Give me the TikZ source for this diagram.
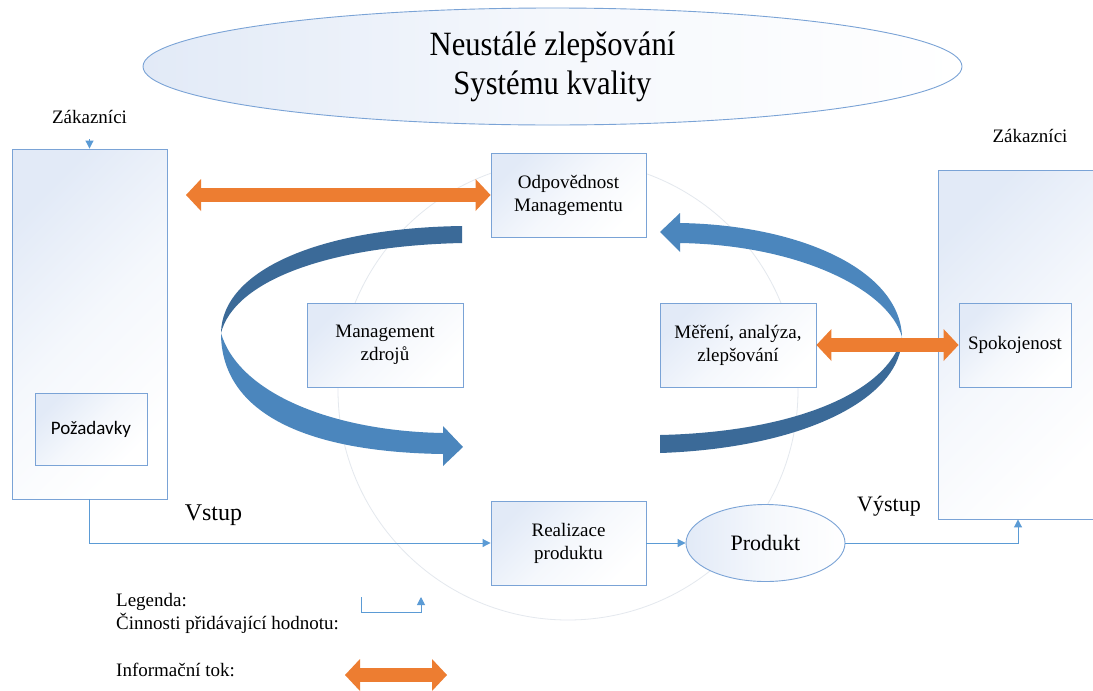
\documentclass[tikz,border=0pt]{standalone}
\usepackage{fontspec}
\usepackage{graphicx}
\setmainfont{Liberation Serif}
\newfontfamily\calib{Carlito}
\usetikzlibrary{shapes.geometric,arrows.meta}

\definecolor{frame}{RGB}{122,163,214}
\definecolor{tint}{RGB}{226,234,247}
\definecolor{flowblue}{RGB}{91,155,213}
\definecolor{infoor}{RGB}{237,125,49}
\definecolor{arcdark}{RGB}{59,106,152}
\definecolor{arclight}{RGB}{75,134,189}
\definecolor{ringgray}{RGB}{228,232,238}

\begin{document}
\begin{tikzpicture}[x=1pt,y=-1pt,
  box/.style={draw=frame, line width=0.9pt, top color=tint, bottom color=white,
    middle color=tint!35!white, shading angle=45, align=center, inner sep=2pt,
    font=\fontsize{19}{23}\selectfont},
  oval/.style={ellipse, draw=frame, line width=0.9pt, left color=tint,
    right color=white, middle color=tint!35!white, align=center, inner sep=0pt},
  flow/.style={draw=flowblue, line width=1pt, -{Triangle[length=8pt,width=8pt]}},
  info/.style={draw=infoor, line width=14pt,
    {Triangle[length=15pt,width=32pt,line width=0pt]}-{Triangle[length=15pt,width=32pt,line width=0pt]}},
  label/.style={inner sep=0pt, font=\fontsize{19}{23}\selectfont},
  biglabel/.style={inner sep=0pt, font=\fontsize{24}{28}\selectfont}]

\useasboundingbox (0,0) rectangle (1093,691);
\fill[white] (0,0) rectangle (1093,691);
\clip (0,0) rectangle (1093,691);

% faint ring behind the process
\draw[ringgray, line width=0.8pt] (568,390) circle[radius=230];

% curved arrow on the left (management to realisation)
\fill[arcdark] (462,226) .. controls (320,228) and (222,270) .. (221,333)
  .. controls (234,282) and (325,246) .. (462,243) -- cycle;
\fill[arclight] (221,333) .. controls (221,410) and (300,452) .. (443,454)
  -- (443,466) -- (463,447) -- (443,426) -- (443,433)
  .. controls (330,431) and (238,392) .. (221,333) -- cycle;

% curved arrow on the right (measurement back to management)
\fill[arclight] (902,337) .. controls (900,270) and (800,225) .. (680,223)
  -- (680,213) -- (660,232) -- (680,252) -- (680,243)
  .. controls (800,245) and (889,290) .. (902,337) -- cycle;
\fill[arcdark] (902,337) .. controls (902,398) and (805,448) .. (660,453)
  -- (660,435) .. controls (795,432) and (888,392) .. (902,337) -- cycle;

% title
\node[oval, minimum width=819pt, minimum height=117pt,
  font=\fontsize{34}{39}\selectfont] (ttl) at (552.5,66.5)
  {\scalebox{0.9}[1]{Neustálé zlepšování}\\\scalebox{0.9}[1]{Systému kvality}};

% customers on both sides
\node[box, minimum width=155pt, minimum height=350pt] (cust1) at (89.5,324) {};
\node[box, minimum width=160pt, minimum height=349pt] (cust2) at (1018,344.5) {};
\node[label] (zak1) at (89.5,117) {Zákazníci};
\node[label] (zak2) at (1030,136) {Zákazníci};
\node[box, minimum width=112pt, minimum height=72pt, font=\calib\fontsize{19}{23}\selectfont]
  (poz) at (91,429) {Požadavky};
\node[box, minimum width=112pt, minimum height=84pt] (spok) at (1015,345) {Spokojenost};

% process boxes
\node[box, minimum width=155pt, minimum height=84pt] (odp) at (568.5,195)
  {Odpovědnost\\Managementu};
\node[box, minimum width=156pt, minimum height=84pt] (mz) at (385,345)
  {Management\\zdrojů};
\node[box, minimum width=156pt, minimum height=84pt] (mer) at (738,345)
  {Měření, analýza,\\zlepšování};
\node[box, minimum width=155pt, minimum height=84pt] (real) at (568.5,543)
  {Realizace\\produktu};
\node[oval, minimum width=159pt, minimum height=77pt,
  font=\fontsize{22}{26}\selectfont] (prod) at (765.5,543) {Produkt};

% value-adding flow
\coordinate (cin) at (89.5,139);
\draw[flow] (cin) -- (cust1.north);
\draw[flow] (cust1.south) |- (real.west);
\draw[flow] (real.east) -- (prod.west);
\draw[flow] (prod.east) -| (cust2.south);
\node[biglabel] (vstup) at (213.5,515) {Vstup};
\node[biglabel, font=\fontsize{22}{26}\selectfont] (vystup) at (889,506) {Výstup};

% information flow
\coordinate (infoL) at (186,195);
\draw[info] (infoL) -- (odp.west);
\draw[info] (mer.east) -- (spok.west);

% legend
\node[label, anchor=west] (leg) at (116,602) {Legenda:};
\node[label, anchor=west] (legv) at (116,623) {Činnosti přidávající hodnotu:};
\node[label, anchor=west] (legi) at (116,670) {Informační tok:};
\coordinate (lgs) at (361,597);
\coordinate (lgm) at (421,612);
\coordinate (lge) at (421,597);
\draw[flow] (lgs) |- (lgm) -- (lge);
\coordinate (lgA) at (345,675);
\coordinate (lgB) at (447,675);
\draw[info] (lgA) -- (lgB);
\end{tikzpicture}
\end{document}
